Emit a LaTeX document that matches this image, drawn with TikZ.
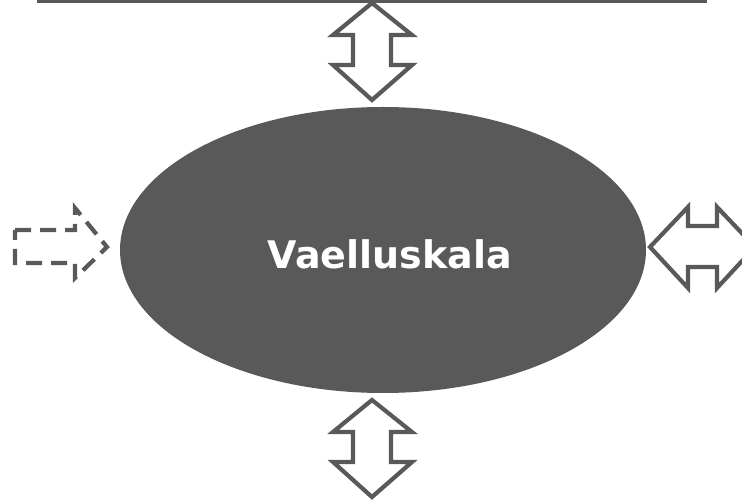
\documentclass[tikz,border=0pt]{standalone}
\usepackage{fontspec}
\setsansfont{DejaVu Sans}
\usepackage{xcolor}
\usepackage{tikz}
\usetikzlibrary{shapes.geometric}
\definecolor{fishgray}{HTML}{595959}
\tikzset{
 outline/.style={draw=fishgray, line width=4.2pt, line join=miter, fill=white},
 dashline/.style={outline, dash pattern=on 16pt off 9pt},
}

\begin{document}
\begin{tikzpicture}[x=1pt, y=-1pt]
 \useasboundingbox (0,0) rectangle (742,502);
 \clip (0,0) rectangle (742,502);
%	river line on top
 \coordinate (topl) at (37,1);
 \coordinate (topr) at (707,1);
 \draw[fishgray, line width=4.5pt] (topl) -- (topr);
%	the fish
 \node[ellipse, fill=fishgray, inner sep=0pt, minimum width=526pt, minimum height=286pt]
	(fish) at (383,250) {};
 \node[text=white, font=\sffamily\bfseries\fontsize{38}{40}\selectfont]
	(name) at ([xshift=7pt, yshift=-4pt]fish.center) {Vaelluskala};
 \draw[outline]
%	up
		(372,3) -- (412,35) -- (391,35) -- (391,65) -- (412,65)
		-- (372,100) -- (333,65) -- (353,65) -- (353,35) -- (333,35) -- cycle
%	down
		(372,400) -- (412,432) -- (391,432) -- (391,462) -- (412,462)
		-- (372,497) -- (333,462) -- (353,462) -- (353,432) -- (333,432) -- cycle
%	right
		(650,247) -- (688,207) -- (688,226) -- (717,226) -- (717,207)
		-- (755,247) -- (717,288) -- (717,267) -- (688,267) -- (688,288) -- cycle
		;
%	left, dashed
 \draw[dashline]
		(15,230) -- (75,230) -- (75,208) -- (107,247) -- (75,278)
		-- (75,263) -- (15,263) -- cycle;
\end{tikzpicture}
\end{document}
